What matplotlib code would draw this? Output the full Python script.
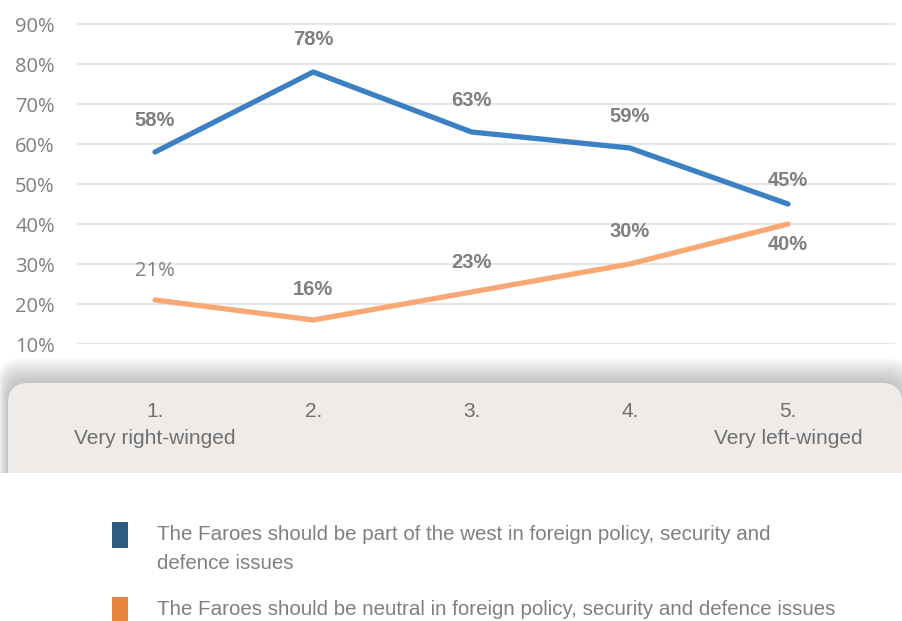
import matplotlib.pyplot as plt
from matplotlib.patches import FancyBboxPatch, Rectangle
from matplotlib.transforms import IdentityTransform

positions = [1, 2, 3, 4, 5]
tick_labels = ['1.\nVery right-winged', '2.', '3.', '4.', '5.\nVery left-winged']
west = [58, 78, 63, 59, 45]
neutral = [21, 16, 23, 30, 40]
west_name = 'The Faroes should be part of the west in foreign policy, security and\ndefence issues'
neutral_name = 'The Faroes should be neutral in foreign policy, security and defence issues'

gray = '#7f7f7f'
sans = ['Liberation Sans', 'DejaVu Sans']

fig = plt.figure(figsize=(9.02, 6.21), dpi=100)
W, H = 902, 621
px = IdentityTransform()

# grey band behind the category labels, with a soft shadow on top
for i in range(14):
    pad = 1 + i * 1.8
    fig.patches.append(FancyBboxPatch((8 - pad * 0.4, 120), 894 + pad * 0.8, 118 + pad,
                                      boxstyle='round,pad=0,rounding_size=22',
                                      transform=px, fc='#8a8a8a', ec='none',
                                      alpha=0.045, zorder=0))
fig.patches.append(FancyBboxPatch((8, 120), 894, 118, boxstyle='round,pad=0,rounding_size=20',
                                  transform=px, fc='#eeebe9', ec='none', zorder=1))
fig.patches.append(Rectangle((0, 0), W, 621 - 473, transform=px, fc='white', ec='none', zorder=2))

ax = fig.add_axes([77 / W, 1 - 344 / H, (895 - 77) / W, (344 - 20) / H])
ax.set_xlim(0.507, 5.676)
ax.set_ylim(10, 91)
ax.patch.set_alpha(0)
for s in ax.spines.values():
    s.set_visible(False)

ax.set_yticks(range(10, 100, 10))
ax.set_yticklabels([f'{v}%' for v in range(10, 100, 10)], family='Open Sans', fontsize=14.5, color=gray)
ax.tick_params(axis='y', length=0, pad=16)
ax.set_xticks([])
ax.grid(axis='y', color='#e6e6e6', lw=1.6)

ax.plot(positions, west, color='#3b80c3', lw=3.8, solid_capstyle='round', clip_on=False, zorder=3)
ax.plot(positions, neutral, color='#f9a873', lw=3.8, solid_capstyle='round', clip_on=False, zorder=3)

west_off = [7.8, 8.2, 8, 8, 5.8]
neutral_off = [7.2, 7.7, 7.5, 8.2, -5]
for x, v, o in zip(positions, west, west_off):
    ax.text(x, v + o, f'{v}%', ha='center', va='center', family=sans, fontweight='bold',
            fontsize=14.5, color=gray, zorder=4)
for i, (x, v, o) in enumerate(zip(positions, neutral, neutral_off)):
    if i == 0:
        ax.text(x, v + o, f'{v}%', ha='center', va='center', family='Open Sans',
                fontsize=14.5, color=gray, zorder=4)
    else:
        ax.text(x, v + o, f'{v}%', ha='center', va='center', family=sans, fontweight='bold',
                fontsize=14.5, color=gray, zorder=4)

# category labels in the grey band
for x, lab in zip(positions, tick_labels):
    xf = ax.transData.transform((x, 0))[0] / W
    fig.text(xf, 1 - 402 / H, lab, ha='center', va='top', family=sans, fontsize=15,
             color='#707070', linespacing=1.55, zorder=5)

# legend
fig.patches.append(Rectangle((112 / W, 1 - 548 / H), 16 / W, 26 / H, transform=fig.transFigure,
                             fc='#2e5b7e', ec='none', zorder=3))
fig.patches.append(Rectangle((112 / W, 1 - 621 / H), 16 / W, 24 / H, transform=fig.transFigure,
                             fc='#e8843e', ec='none', zorder=3))
fig.text(157 / W, 1 - 525 / H, west_name, ha='left', va='top', family=sans, fontsize=14.8,
         color=gray, linespacing=1.68)
fig.text(157 / W, 1 - 600 / H, neutral_name, ha='left', va='top', family=sans, fontsize=14.8,
         color=gray)

fig.savefig('out.png', dpi=100)
